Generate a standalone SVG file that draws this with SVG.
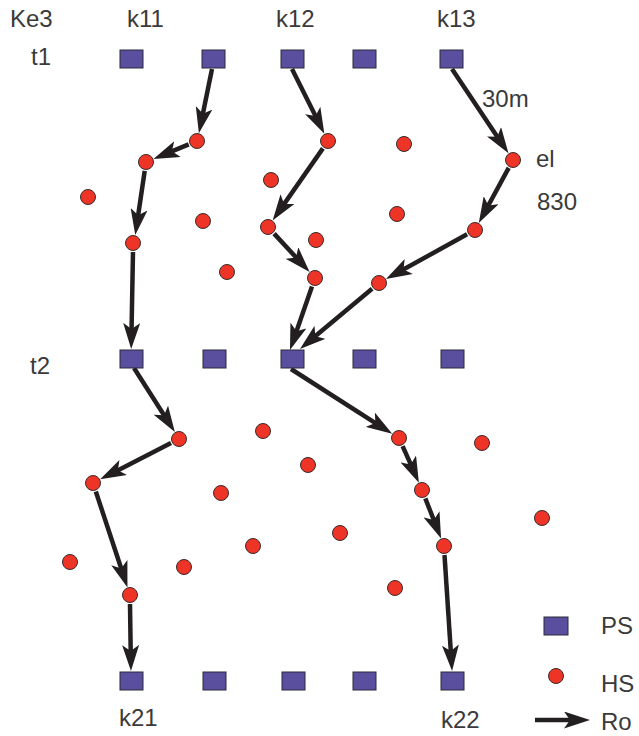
<svg xmlns="http://www.w3.org/2000/svg" width="639" height="736" viewBox="0 0 639 736">
<style>
.sq{fill:#5a4e9e;stroke:#2b2b3a;stroke-width:1}
.hs{fill:#ee3427;stroke:#3a2a2a;stroke-width:1}
.ln{fill:none;stroke:#231f20;stroke-width:4.5;marker-end:url(#ah)}
text{font-family:"Liberation Sans",Arial,sans-serif;font-size:24px;fill:#3a3a3a}
</style>
<defs>
<marker id="ah" viewBox="0 0 26 17" refX="14" refY="8.5" markerWidth="26" markerHeight="17" markerUnits="userSpaceOnUse" orient="auto">
<path d="M0,0 L26,8.5 L0,17 L6,8.5 Z" fill="#231f20"/>
</marker>
</defs>
<rect width="639" height="736" fill="#fff"/>
<g id="labels">
<text x="10" y="27">Ke3</text>
<text x="127" y="27">k11</text>
<text x="276" y="27">k12</text>
<text x="437" y="27">k13</text>
<text x="31" y="65">t1</text>
<text x="30" y="374">t2</text>
<text x="482" y="107">30m</text>
<text x="536" y="167">el</text>
<text x="537" y="210">830</text>
<text x="119" y="726">k21</text>
<text x="441" y="728">k22</text>
</g>
<g id="connectors">
<path class="ln" d="M212,69 L201.3,121.5"/>
<path class="ln" d="M188.7,144.4 L164.5,154.4"/>
<path class="ln" d="M144.7,170.9 L137,223.2"/>
<path class="ln" d="M133,252 L131.4,337"/>
<path class="ln" d="M292,69 L319,123.1"/>
<path class="ln" d="M322.9,148.4 L279.5,210.6"/>
<path class="ln" d="M274.1,233.6 L301.5,263.3"/>
<path class="ln" d="M312,286.5 L293.9,338.7"/>
<path class="ln" d="M372.1,288.8 L309.2,341.3"/>
<path class="ln" d="M452,69 L501.8,143.4"/>
<path class="ln" d="M508.7,167.9 L484.5,212.5"/>
<path class="ln" d="M467.1,234.3 L396.5,273.3"/>
<path class="ln" d="M134,368 L168.4,422"/>
<path class="ln" d="M171,443.1 L110.8,473.9"/>
<path class="ln" d="M95.8,491.5 L123.7,576"/>
<path class="ln" d="M130,604 L130.8,659"/>
<path class="ln" d="M291,369 L382.1,427.3"/>
<path class="ln" d="M402.6,446.2 L414,471.7"/>
<path class="ln" d="M425.3,498.4 L436.7,527.4"/>
<path class="ln" d="M444.5,555 L451.3,659"/>
</g>
<g id="ps-t1">
<rect id="p11" class="sq" x="120" y="50" width="23" height="18"/>
<rect id="p12" class="sq" x="202" y="50" width="23" height="18"/>
<rect id="p13" class="sq" x="281" y="50" width="23" height="18"/>
<rect id="p14" class="sq" x="353" y="50" width="23" height="18"/>
<rect id="p15" class="sq" x="440" y="50" width="23" height="18"/>
</g>
<g id="ps-t2">
<rect id="p21" class="sq" x="120" y="350" width="23" height="18"/>
<rect id="p22" class="sq" x="203" y="350" width="23" height="18"/>
<rect id="p23" class="sq" x="281" y="350" width="23" height="18"/>
<rect id="p24" class="sq" x="353" y="350" width="23" height="18"/>
<rect id="p25" class="sq" x="441" y="350" width="23" height="18"/>
</g>
<g id="ps-t3">
<rect id="p31" class="sq" x="120" y="672" width="23" height="18"/>
<rect id="p32" class="sq" x="203" y="672" width="23" height="18"/>
<rect id="p33" class="sq" x="282" y="672" width="23" height="18"/>
<rect id="p34" class="sq" x="353" y="672" width="23" height="18"/>
<rect id="p35" class="sq" x="441" y="672" width="23" height="18"/>
</g>
<g id="hs-top">
<circle id="hA" class="hs" cx="197" cy="141" r="7.5"/>
<circle id="hB" class="hs" cx="146" cy="162" r="7.5"/>
<circle id="hC" class="hs" cx="88" cy="197" r="7.5"/>
<circle id="hD" class="hs" cx="133" cy="243" r="7.5"/>
<circle id="hE" class="hs" cx="203" cy="221" r="7.5"/>
<circle id="hF" class="hs" cx="227" cy="272" r="7.5"/>
<circle id="hG" class="hs" cx="328" cy="141" r="7.5"/>
<circle id="hH" class="hs" cx="271" cy="180" r="7.5"/>
<circle id="hI" class="hs" cx="268" cy="227" r="7.5"/>
<circle id="hJ" class="hs" cx="316" cy="240" r="7.5"/>
<circle id="hK" class="hs" cx="315" cy="278" r="7.5"/>
<circle id="hL" class="hs" cx="404" cy="144" r="7.5"/>
<circle id="hM" class="hs" cx="397" cy="214" r="7.5"/>
<circle id="hN" class="hs" cx="513" cy="160" r="7.5"/>
<circle id="hO" class="hs" cx="475" cy="230" r="7.5"/>
<circle id="hP" class="hs" cx="379" cy="283" r="7.5"/>
</g>
<g id="hs-bottom">
<circle id="hQ" class="hs" cx="179" cy="439" r="7.5"/>
<circle id="hR" class="hs" cx="263" cy="431" r="7.5"/>
<circle id="hS" class="hs" cx="93" cy="483" r="7.5"/>
<circle id="hT" class="hs" cx="308" cy="465" r="7.5"/>
<circle id="hU" class="hs" cx="221" cy="493" r="7.5"/>
<circle id="hV" class="hs" cx="399" cy="438" r="7.5"/>
<circle id="hW" class="hs" cx="482" cy="443" r="7.5"/>
<circle id="hX" class="hs" cx="422" cy="490" r="7.5"/>
<circle id="hY" class="hs" cx="542" cy="518" r="7.5"/>
<circle id="hZ" class="hs" cx="340" cy="533" r="7.5"/>
<circle id="hAA" class="hs" cx="253" cy="546" r="7.5"/>
<circle id="hAB" class="hs" cx="444" cy="546" r="7.5"/>
<circle id="hAC" class="hs" cx="70" cy="562" r="7.5"/>
<circle id="hAD" class="hs" cx="184" cy="567" r="7.5"/>
<circle id="hAE" class="hs" cx="130" cy="595" r="7.5"/>
<circle id="hAF" class="hs" cx="395" cy="588" r="7.5"/>
</g>
<g id="legend">
<rect class="sq" x="544" y="617" width="24" height="18"/>
<text x="601" y="634">PS</text>
<circle class="hs" cx="556" cy="676" r="7.5"/>
<text x="601" y="692">HS</text>
<path class="ln" d="M535,720 L578,720"/>
<text x="601" y="730">Ro</text>
</g>
</svg>
